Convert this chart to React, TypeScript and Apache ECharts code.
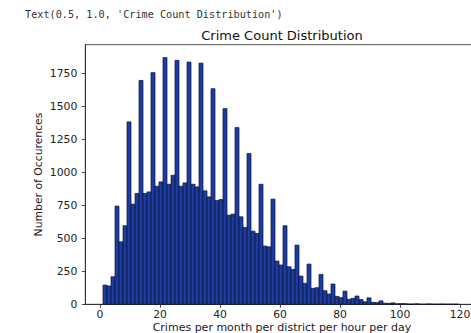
import React, { useEffect, useRef } from "react";
import * as echarts from "echarts";

const binStart = 1;
const binWidth = 4 / 3;
const counts = [
  146, 139, 209, 745, 474, 596, 1384, 760, 841, 1699, 841, 853, 1758, 896, 929,
  1872, 911, 979, 1851, 896, 921, 1838, 911, 891, 1830, 861, 815, 1636, 787, 795,
  1485, 676, 684, 1341, 664, 583, 1144, 555, 538, 911, 442, 436, 798, 328, 298,
  596, 285, 265, 449, 214, 159, 305, 121, 126, 227, 103, 78, 154, 60, 50,
  100, 38, 45, 63, 36, 19, 49, 15, 13, 26, 8, 7, 11, 4, 5,
  5, 2, 2, 4, 1, 1, 3, 1, 1, 2, 1, 1, 1, 1,
];
const xTicks = [0, 20, 40, 60, 80, 100, 120];
const yTicks = [0, 250, 500, 750, 1000, 1250, 1500, 1750];

const titleText = "Crime Count Distribution";
const outputText = "Text(0.5, 1.0, 'Crime Count Distribution')";
const xName = "Crimes per month per district per hour per day";
const yName = "Number of Occurences";

export default function App() {
  const ref = useRef<HTMLDivElement>(null);
  useEffect(() => {
    const chart = echarts.init(ref.current!, null, { renderer: "svg" });
    const data = counts.map((c, i) => [
      binStart + i * binWidth,
      binStart + (i + 1) * binWidth,
      c,
    ]);
    const font = "DejaVu Sans";
    chart.setOption({
      animation: false,
      grid: {
        left: 85.3,
        top: 44.7,
        right: 1.3,
        bottom: 28.7,
        show: true,
        borderColor: "#222",
        borderWidth: 0.8,
        backgroundColor: "transparent",
      },
      xAxis: {
        type: "value",
        min: -4.9,
        max: 124.9,
        splitLine: { show: false },
        axisLine: { show: true, onZero: false, lineStyle: { color: "#222", width: 0.8 } },
        axisTick: {
          show: true,
          customValues: xTicks,
          length: 3.5,
          lineStyle: { color: "#222", width: 0.8 },
        },
        axisLabel: {
          customValues: xTicks,
          margin: 5,
          color: "#222",
          fontFamily: font,
          fontSize: 10.8,
          formatter: (v: number) => String(v),
        },
      },
      yAxis: {
        type: "value",
        min: 0,
        max: 1970,
        splitLine: { show: false },
        axisLine: { show: true, onZero: false, lineStyle: { color: "#222", width: 0.8 } },
        axisTick: {
          show: true,
          customValues: yTicks,
          length: 3.5,
          lineStyle: { color: "#222", width: 0.8 },
        },
        axisLabel: {
          customValues: yTicks,
          margin: 8,
          color: "#222",
          fontFamily: font,
          fontSize: 10.8,
          formatter: (v: number) => String(v),
        },
      },
      series: [
        {
          type: "custom",
          encode: { x: [0, 1], y: 2 },
          data,
          renderItem: (params: any, api: any) => {
            const x0 = api.value(0);
            const x1 = api.value(1);
            const c = api.value(2);
            const p0 = api.coord([x0, c]);
            const p1 = api.coord([x1, 0]);
            return {
              type: "rect",
              shape: {
                x: p0[0],
                y: p0[1],
                width: p1[0] - p0[0],
                height: p1[1] - p0[1],
              },
              style: { fill: "#1c3ca3", stroke: "#0b1330", lineWidth: 0.7 },
            };
          },
        },
      ],
      graphic: [
        {
          type: "text",
          x: 25,
          y: 14,
          style: {
            text: outputText,
            fill: "#333",
            font: "10.2px 'DejaVu Sans Mono'",
            textAlign: "left",
            textVerticalAlign: "middle",
          },
        },
        {
          type: "text",
          x: 282,
          y: 35,
          style: {
            text: titleText,
            fill: "#111",
            font: `13px '${font}'`,
            textAlign: "center",
            textVerticalAlign: "middle",
          },
        },
        {
          type: "text",
          x: 282,
          y: 327,
          style: {
            text: xName,
            fill: "#222",
            font: `11px '${font}'`,
            textAlign: "center",
            textVerticalAlign: "middle",
          },
        },
        {
          type: "text",
          x: 38,
          y: 174.5,
          rotation: Math.PI / 2,
          style: {
            text: yName,
            fill: "#222",
            font: `10.8px '${font}'`,
            textAlign: "center",
            textVerticalAlign: "middle",
          },
        },
      ],
    });
    return () => chart.dispose();
  }, []);
  return (
    <div
      style={{
        position: "absolute",
        left: 0,
        top: 0,
        width: 471,
        height: 333,
        overflow: "hidden",
        background: "#fff",
      }}
    >
      <div ref={ref} style={{ width: 476, height: 333 }} />
    </div>
  );
}
